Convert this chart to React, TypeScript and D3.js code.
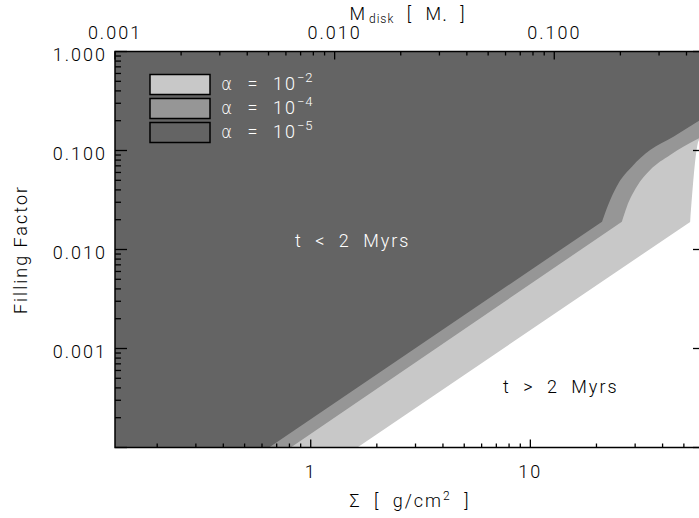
import React, { useEffect, useRef } from 'react';
import * as d3 from 'd3';

// boundaries (Sigma in g/cm^2, filling factor) above which t < 2 Myrs
const sigmaLight = [1.63, 53.4, 58.6, 62.4];
const ffLight = [1e-4, 0.019, 0.128, 0.138];

const sigmaMid = [0.811, 26.1, 27.5, 30.5, 35.1, 43.3, 58.6, 62.4];
const ffMid = [1e-4, 0.0191, 0.0271, 0.0431, 0.0635, 0.0901, 0.133, 0.142];

const sigmaDark = [0.646, 21.2, 23.1, 25.2, 29.0, 35.1, 44.8, 58.6, 62.4];
const ffDark = [1e-4, 0.0191, 0.0316, 0.0467, 0.0686, 0.101, 0.138, 0.2, 0.218];

const legendLabels = ['−2', '−4', '−5'];
const fillColors = ['#c8c8c8', '#969696', '#646464'];

const FONT = "Roboto, 'Liberation Sans', Arial, sans-serif";

const App = () => {
  const svgRef = useRef<SVGSVGElement>(null);

  useEffect(() => {
    const svg = d3.select(svgRef.current);
    svg.selectAll('*').remove();

    const left = 115, right = 705, top = 51.5, bottom = 447.5;
    const sMin = 0.1285, sMax = 62.4;

    const x = d3.scaleLog().domain([sMin, sMax]).range([left, right]);
    const xTop = d3.scaleLog().domain([0.001, 0.001 * sMax / sMin]).range([left, right]);
    const y = d3.scaleLog().domain([1e-4, 1]).range([bottom, top]);

    const isMajor = (v: number) => Math.abs(Math.log10(v) - Math.round(Math.log10(v))) < 1e-6;

    svg.append('defs').append('clipPath').attr('id', 'plotClip')
      .append('rect')
      .attr('x', left).attr('y', top)
      .attr('width', right - left).attr('height', bottom - top);

    // filled regions
    const regions = [
      { s: sigmaLight, f: ffLight, color: fillColors[0] },
      { s: sigmaMid, f: ffMid, color: fillColors[1] },
      { s: sigmaDark, f: ffDark, color: fillColors[2] },
    ];

    const curve = d3.line<[number, number]>()
      .x(d => x(d[0]))
      .y(d => y(d[1]))
      .curve(d3.curveMonotoneX);

    const g = svg.append('g').attr('clip-path', 'url(#plotClip)');
    regions.forEach(r => {
      // straight power-law part, then the curved part from the kink on
      const pts: [number, number][] = r.s.map((s, i) => [s, r.f[i]]);
      const bend = curve(pts.slice(1)) as string;
      const d = `M${x(sMin)},${y(1e-4)}L${x(pts[0][0])},${y(pts[0][1])}L` + bend.slice(1) +
        `L${x(sMax)},${y(1)}L${x(sMin)},${y(1)}Z`;
      g.append('path')
        .attr('d', d)
        .attr('fill', r.color);
    });

    // frame
    svg.append('rect')
      .attr('x', left).attr('y', top)
      .attr('width', right - left).attr('height', bottom - top)
      .attr('fill', 'none')
      .attr('stroke', '#000')
      .attr('stroke-width', 1.5);

    const axes = svg.append('g').attr('stroke', '#000').attr('stroke-width', 1.3);

    // bottom + top (sigma) ticks
    x.ticks().forEach(t => {
      const len = isMajor(t) ? 8 : 4;
      axes.append('line')
        .attr('x1', x(t)).attr('x2', x(t))
        .attr('y1', bottom).attr('y2', bottom - len);
    });
    xTop.ticks().forEach(t => {
      const len = isMajor(t) ? 8 : 4;
      axes.append('line')
        .attr('x1', xTop(t)).attr('x2', xTop(t))
        .attr('y1', top).attr('y2', top + len);
    });
    // left + right ticks
    y.ticks().forEach(t => {
      const len = isMajor(t) ? 12 : 6;
      axes.append('line')
        .attr('x1', left).attr('x2', left + len)
        .attr('y1', y(t)).attr('y2', y(t));
      axes.append('line')
        .attr('x1', right).attr('x2', right - len)
        .attr('y1', y(t)).attr('y2', y(t));
    });

    const txt = (sel: any) => sel
      .attr('font-family', FONT)
      .attr('font-weight', 300)
      .attr('font-size', 18)
      .attr('letter-spacing', 2)
      .attr('fill', '#000');

    // tick labels
    x.ticks().filter(isMajor).forEach(t => {
      svg.append('text').call(txt)
        .attr('x', x(t)).attr('y', 478)
        .attr('text-anchor', 'middle')
        .text(d3.format('d')(t));
    });
    xTop.ticks().filter(isMajor).forEach(t => {
      svg.append('text').call(txt)
        .attr('x', xTop(t)).attr('y', 39)
        .attr('text-anchor', 'middle')
        .text(d3.format('.3f')(t));
    });
    y.ticks().filter(isMajor).filter(t => t > 1e-4).forEach(t => {
      svg.append('text').call(txt)
        .attr('x', 107).attr('y', y(t) + 9.5)
        .attr('text-anchor', 'end')
        .text(d3.format('.3f')(t));
    });

    // axis titles
    const bt = svg.append('text').call(txt)
      .attr('x', (left + right) / 2).attr('y', 507)
      .attr('text-anchor', 'middle')
      .attr('word-spacing', 6);
    bt.append('tspan').text('Σ [ g/cm');
    bt.append('tspan').text('2').attr('font-size', 12).attr('dy', -7);
    bt.append('tspan').text(' ]').attr('dy', 7);

    const tt = svg.append('text').call(txt)
      .attr('x', (left + right) / 2 - 2).attr('y', 20)
      .attr('text-anchor', 'middle')
      .attr('word-spacing', 6);
    tt.append('tspan').text('M');
    tt.append('tspan').text('disk').attr('font-size', 12).attr('dy', 3).attr('dx', 2).attr('letter-spacing', 1);
    tt.append('tspan').text(' [ M').attr('dy', -3);
    tt.append('tspan').text('•').attr('font-size', 9).attr('dy', 3);
    tt.append('tspan').text(' ]').attr('dy', -3);

    svg.append('text').call(txt)
      .attr('transform', `translate(27,${(top + bottom) / 2}) rotate(-90)`)
      .attr('text-anchor', 'middle')
      .text('Filling Factor');

    // region labels
    svg.append('text').call(txt)
      .attr('x', 295).attr('y', 247)
      .attr('fill', '#fff')
      .attr('word-spacing', 6)
      .text('t < 2 Myrs');
    svg.append('text').call(txt)
      .attr('x', 503).attr('y', 393)
      .attr('word-spacing', 6)
      .text('t > 2 Myrs');

    // legend
    legendLabels.forEach((lab, i) => {
      const ly = 74.5 + i * 24;
      svg.append('rect')
        .attr('x', 150).attr('y', ly)
        .attr('width', 60).attr('height', 20)
        .attr('fill', fillColors[i])
        .attr('stroke', '#000')
        .attr('stroke-width', 1.5);
      const lt = svg.append('text').call(txt)
        .attr('x', 221).attr('y', ly + 15)
        .attr('fill', '#fff')
        .attr('word-spacing', 7);
      lt.append('tspan').text('α').attr('font-family', "'DejaVu Sans', sans-serif").attr('font-size', 17);
      lt.append('tspan').text(' = 10');
      lt.append('tspan').text(lab).attr('font-size', 13).attr('dy', -8).attr('letter-spacing', 1);
    });
  }, []);

  return (
    <svg
      ref={svgRef}
      width={699}
      height={518}
      style={{ position: 'absolute', left: 0, top: 0, background: '#fff' }}
    />
  );
};

export default App;
